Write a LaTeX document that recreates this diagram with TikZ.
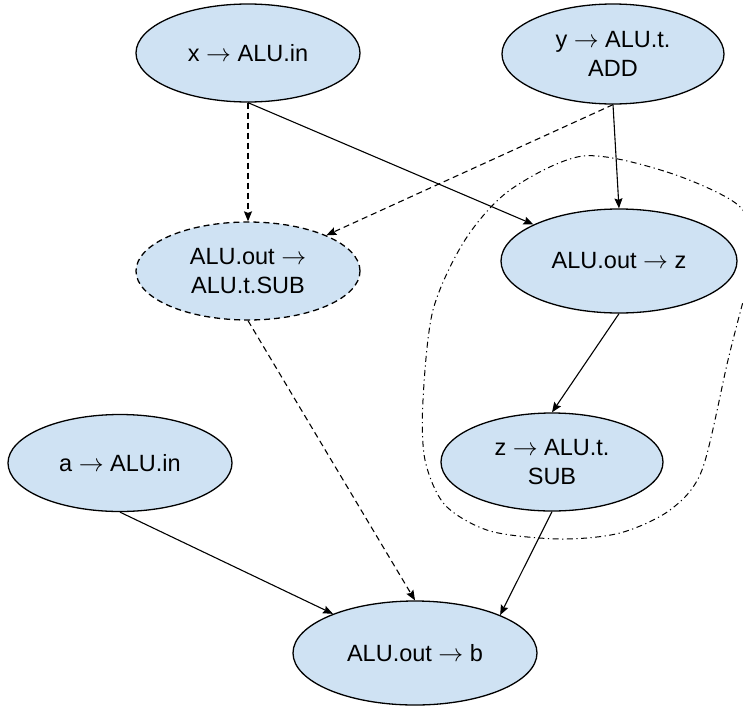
\documentclass[tikz,border=0pt]{standalone}
\usepackage{fontspec}
\setmainfont{Liberation Sans}
\usetikzlibrary{arrows.meta,shapes.geometric}
\definecolor{nodefill}{HTML}{CFE2F3}
\newcommand{\myarr}{$\rightarrow$}
\begin{document}
\begin{tikzpicture}[x=1pt,y=-1pt,
  state/.style={ellipse,draw=black,line width=1.3pt,fill=nodefill,inner sep=0pt,
    align=center,font=\fontsize{23.5}{28.5}\selectfont},
  edge/.style={line width=1.1pt,-{Stealth[length=10pt,width=8pt,inset=1.5pt]}},
  dedge/.style={edge,dash pattern=on 6pt off 4pt},
  group/.style={line width=1pt,dash pattern=on 6pt off 3.5pt on 1.2pt off 3.5pt}]
\useasboundingbox (0,0) rectangle (743,707);
\node[state,minimum width=224pt,minimum height=98pt] (x) at (248,53) {x \myarr\ ALU.in};
\node[state,minimum width=222pt,minimum height=100pt] (y) at (613,54) {y \myarr\ ALU.t.\\ADD};
\node[state,minimum width=224pt,minimum height=98pt,dash pattern=on 6pt off 4pt] (sub) at (248,271) {ALU.out \myarr\\ALU.t.SUB};
\node[state,minimum width=236pt,minimum height=104pt] (z) at (619,261) {ALU.out \myarr\ z};
\node[state,minimum width=222pt,minimum height=98pt] (zs) at (552,462) {z \myarr\ ALU.t.\\SUB};
\node[state,minimum width=224pt,minimum height=97pt] (a) at (120,463) {a \myarr\ ALU.in};
\node[state,minimum width=244pt,minimum height=104pt] (b) at (415,653) {ALU.out \myarr\ b};
\begin{scope}
\clip (0,0) rectangle (743,707);
\draw[group] plot[smooth cycle] coordinates {(583,156) (667,172) (738,205) (758,250) (744,298) (728,360) (702,470) (670,510) (620,533) (560,539) (490,531) (445,505) (425,460) (423,400) (433,310) (465,240) (510,190)};
\end{scope}
\draw[dedge] (x.south) -- (sub.north);
\draw[edge] (x.south) -- (z);
\draw[edge] (y.south) -- (z.north);
\draw[dedge] (y.south) -- (sub);
\draw[dedge] (sub.south) -- (b.north);
\draw[edge] (z.south) -- (zs.north);
\draw[edge] (zs.south) -- (b.24);
\draw[edge] (a.south) -- (b);
\end{tikzpicture}
\end{document}
